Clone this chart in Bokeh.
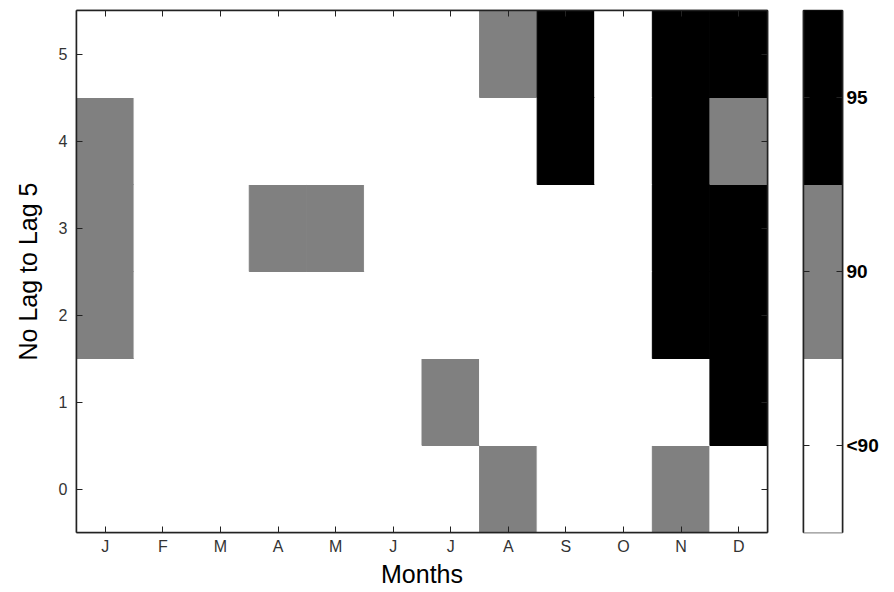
from bokeh.plotting import figure
from bokeh.layouts import row
from bokeh.models import LinearAxis, FixedTicker, ColumnDataSource, Range1d
from bokeh.embed import file_html
from bokeh.resources import INLINE

months = ["J", "F", "M", "A", "M", "J", "J", "A", "S", "O", "N", "D"]
lags = [0, 1, 2, 3, 4, 5]
# significance level index per month: 0 = <90, 1 = 90, 2 = 95
lag0 = [0, 0, 0, 0, 0, 0, 0, 1, 0, 0, 1, 0]
lag1 = [0, 0, 0, 0, 0, 0, 1, 0, 0, 0, 0, 2]
lag2 = [1, 0, 0, 0, 0, 0, 0, 0, 0, 0, 2, 2]
lag3 = [1, 0, 0, 1, 1, 0, 0, 0, 0, 0, 2, 2]
lag4 = [1, 0, 0, 0, 0, 0, 0, 0, 2, 0, 2, 1]
lag5 = [0, 0, 0, 0, 0, 0, 0, 1, 2, 0, 2, 2]
levels = ["<90", "90", "95"]
level_colors = ["#ffffff", "#808080", "#000000"]

grid = [lag0, lag1, lag2, lag3, lag4, lag5]
xs, ys, cs = [], [], []
for lag, vals in zip(lags, grid):
    for i, v in enumerate(vals):
        xs.append(i + 1)
        ys.append(lag)
        cs.append(level_colors[v])
src = ColumnDataSource(dict(x=xs, y=ys, c=cs))

TICK_FONT = "Liberation Sans"
DARK = "#222222"


def mirror_axis(ticks):
    return LinearAxis(ticker=FixedTicker(ticks=ticks), major_tick_in=6, major_tick_out=0,
                      minor_tick_line_color=None, major_label_text_color=None,
                      major_label_text_font_size="1px", major_label_standoff=0,
                      axis_line_color=DARK, axis_line_width=1.5,
                      major_tick_line_color=DARK)


p = figure(width=790, height=592, output_backend="svg", toolbar_location=None,
           x_range=Range1d(0.5, 12.5), y_range=Range1d(-0.5, 5.5),
           min_border_left=76, min_border_right=23, min_border_top=10, min_border_bottom=60)
p.rect("x", "y", width=1, height=1, fill_color="c", line_color="c", line_width=1, source=src)
p.grid.visible = False
p.outline_line_color = DARK
p.outline_line_width = 1.5

month_ticks = list(range(1, 13))
p.xaxis.ticker = FixedTicker(ticks=month_ticks)
p.xaxis.major_label_overrides = {i + 1: m for i, m in enumerate(months)}
p.yaxis.ticker = FixedTicker(ticks=lags)
for ax in [p.xaxis[0], p.yaxis[0]]:
    ax.major_tick_in = 6
    ax.major_tick_out = 0
    ax.minor_tick_line_color = None
    ax.axis_line_color = DARK
    ax.axis_line_width = 1.5
    ax.major_tick_line_color = DARK
    ax.major_label_text_font = TICK_FONT
    ax.major_label_text_font_size = "16px"
    ax.major_label_text_color = "#333333"
    ax.axis_label_text_font = "Liberation Sans"
    ax.axis_label_text_font_size = "25px"
    ax.axis_label_text_font_style = "normal"
    ax.axis_label_text_color = "#000000"
p.xaxis.axis_label = "Months"
p.xaxis.major_label_standoff = 5
p.xaxis.axis_label_standoff = 2
p.yaxis.axis_label = "No Lag to Lag 5"
p.yaxis.major_label_standoff = 9
p.yaxis.axis_label_standoff = 14

p.add_layout(mirror_axis(month_ticks), "above")
p.add_layout(mirror_axis(lags), "right")

# colour bar as a separate small figure
level_idx = [0, 1, 2]
csrc = ColumnDataSource(dict(x=[0.5] * 3, y=[i + 0.5 for i in level_idx], c=level_colors))
p2 = figure(width=104, height=592, output_backend="svg", toolbar_location=None,
            x_range=Range1d(0, 1), y_range=Range1d(0, 3), y_axis_location="right",
            min_border_left=13, min_border_right=52, min_border_top=10, min_border_bottom=60)
p2.rect("x", "y", width=1, height=1, fill_color="c", line_color="c", line_width=1, source=csrc)
p2.grid.visible = False
p2.xaxis.visible = False
p2.outline_line_color = DARK
p2.outline_line_width = 1.5
cb_ticks = [i + 0.5 for i in level_idx]
ax2 = p2.yaxis[0]
ax2.ticker = FixedTicker(ticks=cb_ticks)
ax2.major_label_overrides = {i + 0.5: lab for i, lab in zip(level_idx, levels)}
ax2.major_tick_in = 6
ax2.major_tick_out = 0
ax2.minor_tick_line_color = None
ax2.axis_line_color = DARK
ax2.axis_line_width = 1.5
ax2.major_tick_line_color = DARK
ax2.major_label_text_font = "Liberation Sans"
ax2.major_label_text_font_style = "bold"
ax2.major_label_text_font_size = "19px"
ax2.major_label_text_color = "#000000"
ax2.major_label_standoff = 4
p2.add_layout(mirror_axis(cb_ticks), "left")

layout = row(p, p2)
open("out.html", "w").write(file_html(layout, INLINE))
